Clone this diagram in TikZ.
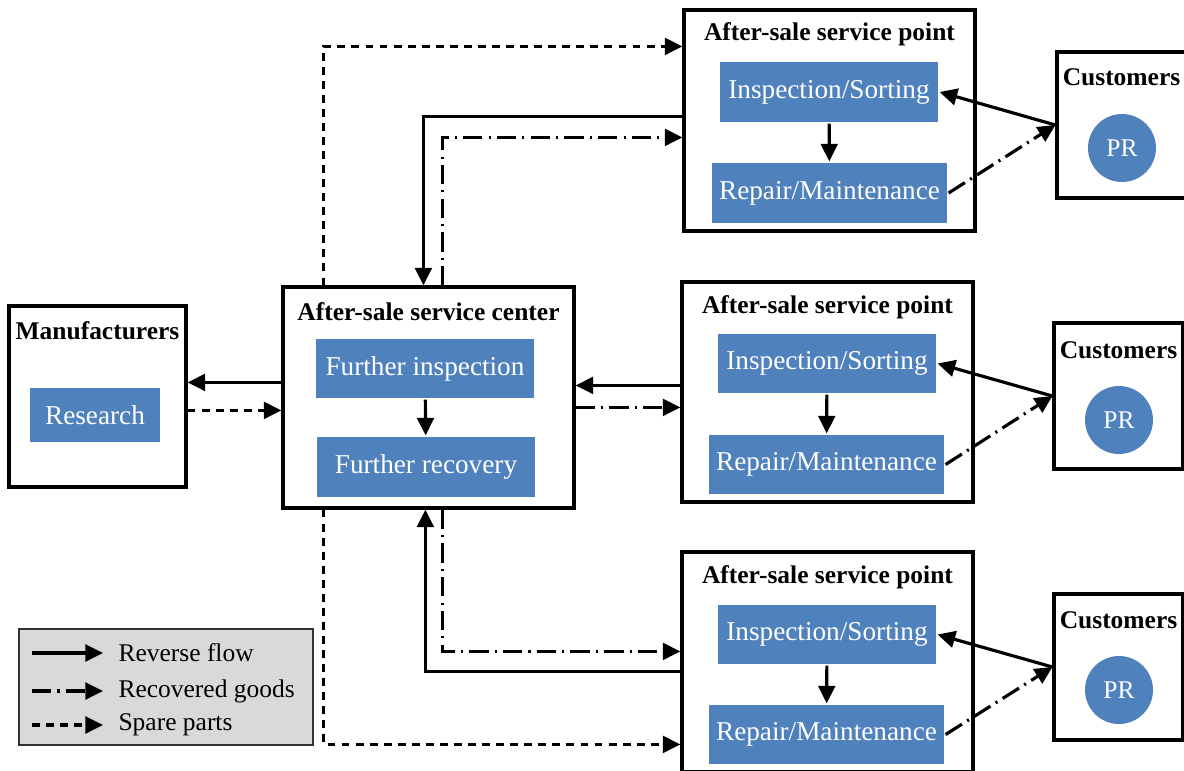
\documentclass[tikz,border=0pt]{standalone}
\usepackage{fontspec}
\setmainfont{Liberation Serif}
\usepackage{xcolor}
\definecolor{Box-blue}{RGB}{79,129,189}
\definecolor{Legend-gray}{RGB}{217,217,217}
\usetikzlibrary{arrows.meta,calc,positioning}

\begin{document}
\begin{tikzpicture} [ % 样式
            x=0.02cm, y=-0.02cm, line width=1.8pt, >={Triangle[length=10pt,width=9.5pt]},
            wh/.style 2 args = {minimum width=#1*0.02cm, minimum height=#2*0.02cm},
            box-outer/.style = {draw, fill=white, inner sep=0pt, line width=1.8pt},
            box-blue/.style = {fill=Box-blue, text=white, inner sep=0pt, font=\fontsize{15.5}{18}\selectfont},
            circle-pr/.style = {circle, fill=Box-blue, text=white, minimum size=68*0.02cm, inner sep=0pt, font=\fontsize{14.5}{17}\selectfont},
            plain-title/.style = {draw=none, inner sep=0pt, font=\bfseries\fontsize{14.5}{17}\selectfont},
            plain-legend/.style = {draw=none, anchor=west, inner sep=0pt, font=\fontsize{14.5}{17}\selectfont},
            flow-reverse/.style = {->},
            flow-recovered/.style = {->, dash pattern=on 11pt off 3.5pt on 1.2pt off 3.5pt},
            flow-spare/.style = {->, dash pattern=on 4.5pt off 3.5pt}
        ]

        % 画布
        \useasboundingbox (0,0) rectangle (1184,771);

        % 制造商
        \node [box-outer, wh={177}{181}] (manu) at (97.5,396.5) {};
        \node [plain-title] (manu-t) at (97.5,331) {Manufacturers};
        \node [box-blue, wh={130}{54}] (res) at (95,415) {Research};

        % 服务中心
        \node [box-outer, wh={291}{221}] (ctr) at (428.5,397.5) {};
        \node [plain-title] (ctr-t) at (428.5,312) {After-sale service center};
        \node [box-blue, wh={218}{59}] (finsp) at (425,368.5) {Further inspection};
        \node [box-blue, wh={218}{60}] (frec) at (426,467) {Further recovery};
        \draw [flow-reverse] (finsp) -- (frec);

        % 上
        \node [box-outer, wh={291}{221}] (sp1) at (829.5,120.5) {};
        \node [plain-title] (sp1-t) at (829.5,34) {After-sale service point};
        \node [box-blue, wh={218}{60}] (insp1) at (829,92) {Inspection/Sorting};
        \node [box-blue, wh={235}{60}] (rep1) at (829.5,193) {Repair/Maintenance};
        \draw [flow-reverse] (insp1) -- (rep1);
        \node [box-outer, wh={129}{146}] (cust1) at (1121.5,125) {};
        \node [plain-title] (cust1-t) at (1121.5,77) {Customers};
        \node [circle-pr] (pr1) at (1122,148) {PR};
        \draw [flow-reverse] (cust1.west) -- (insp1.east);
        \draw [flow-recovered] (rep1.east) -- (cust1.west);

        % 中
        \node [box-outer, wh={291}{220}] (sp2) at (827.5,392) {};
        \node [plain-title] (sp2-t) at (827.5,307) {After-sale service point};
        \node [box-blue, wh={218}{59}] (insp2) at (827,363.5) {Inspection/Sorting};
        \node [box-blue, wh={235}{59}] (rep2) at (826.5,464.5) {Repair/Maintenance};
        \draw [flow-reverse] (insp2) -- (rep2);
        \node [box-outer, wh={129}{146}] (cust2) at (1118.5,396) {};
        \node [plain-title] (cust2-t) at (1118.5,350) {Customers};
        \node [circle-pr] (pr2) at (1119,420) {PR};
        \draw [flow-reverse] (cust2.west) -- (insp2.east);
        \draw [flow-recovered] (rep2.east) -- (cust2.west);

        % 下
        \node [box-outer, wh={291}{220}] (sp3) at (827.5,662) {};
        \node [plain-title] (sp3-t) at (827.5,577) {After-sale service point};
        \node [box-blue, wh={218}{59}] (insp3) at (827,634.5) {Inspection/Sorting};
        \node [box-blue, wh={235}{59}] (rep3) at (826.5,734.5) {Repair/Maintenance};
        \draw [flow-reverse] (insp3) -- (rep3);
        \node [box-outer, wh={129}{146}] (cust3) at (1118.5,667) {};
        \node [plain-title] (cust3-t) at (1118.5,620) {Customers};
        \node [circle-pr] (pr3) at (1119,690) {PR};
        \draw [flow-reverse] (cust3.west) -- (insp3.east);
        \draw [flow-recovered] (rep3.east) -- (cust3.west);

        % 连线 中心与制造商
        \coordinate (cm1) at ($(ctr.north west)+(0,97)$);
        \coordinate (cm2) at ($(ctr.north west)+(0,125)$);
        \draw [flow-reverse] (cm1) -- (cm1 -| manu.east);
        \draw [flow-spare] (cm2 -| manu.east) -- (cm2);

        % 连线 中心与上
        \draw [flow-spare] ($(ctr.north west)+(42,0)$) |- ($(sp1.north west)+(0,38)$);
        \draw [flow-reverse] ($(sp1.north west)+(0,108)$) -| ($(ctr.north west)+(142,0)$);
        \draw [flow-recovered] ($(ctr.north west)+(161,0)$) |- ($(sp1.north west)+(0,129)$);

        % 连线 中心与中
        \coordinate (cs1) at ($(sp2.north west)+(0,105)$);
        \coordinate (cs2) at ($(sp2.north west)+(0,127)$);
        \draw [flow-reverse] (cs1) -- (cs1 -| ctr.east);
        \draw [flow-recovered] (cs2 -| ctr.east) -- (cs2);

        % 连线 中心与下
        \draw [flow-spare] ($(ctr.south west)+(42,0)$) |- ($(sp3.north west)+(0,194)$);
        \draw [flow-reverse] ($(sp3.north west)+(0,121)$) -| ($(ctr.south west)+(144,0)$);
        \draw [flow-recovered] ($(ctr.south west)+(161,0)$) |- ($(sp3.north west)+(0,101)$);

        % 图例
        \node [draw=black!80, fill=Legend-gray, line width=1pt, wh={294}{116}] (lgd) at (166,687) {};
        \coordinate (lg1a) at (32,653);   \coordinate (lg1b) at (103,653);
        \coordinate (lg2a) at (32,691);   \coordinate (lg2b) at (103,691);
        \coordinate (lg3a) at (32,725);   \coordinate (lg3b) at (103,725);
        \draw [flow-reverse] (lg1a) -- (lg1b);
        \draw [flow-recovered] (lg2a) -- (lg2b);
        \draw [flow-spare] (lg3a) -- (lg3b);
        \node [plain-legend] (lgt1) at (117,653) {Reverse flow};
        \node [plain-legend] (lgt2) at (117,691) {Recovered goods};
        \node [plain-legend] (lgt3) at (117,725) {Spare parts};

    \end{tikzpicture}
\end{document}
